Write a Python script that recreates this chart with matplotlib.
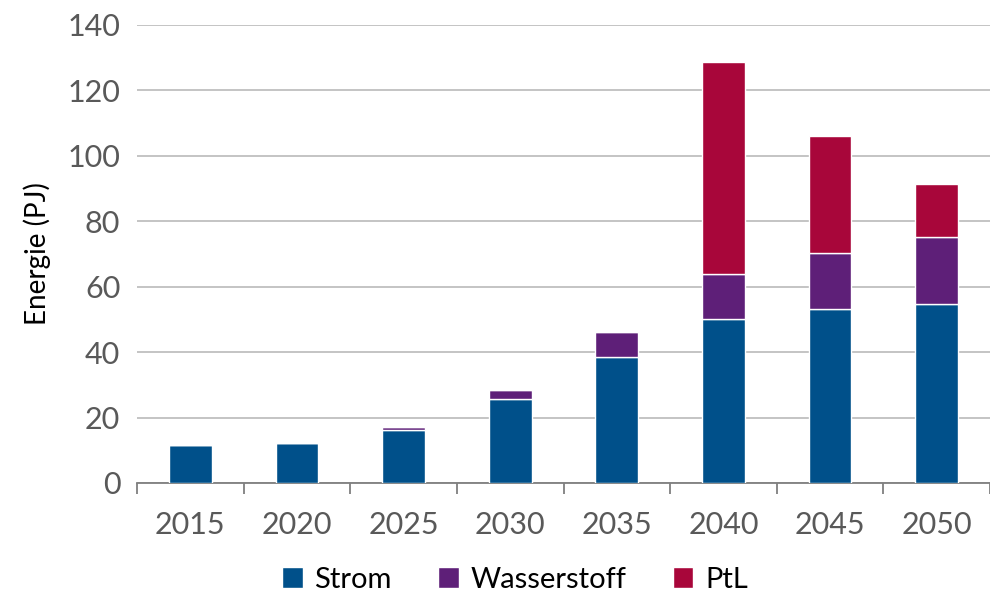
import matplotlib
matplotlib.use("Agg")
import matplotlib.pyplot as plt
import numpy as np

years = ["2015", "2020", "2025", "2030", "2035", "2040", "2045", "2050"]
strom = [11.6, 12.3, 16.2, 25.6, 38.5, 50.0, 53.1, 54.6]
wasserstoff = [0.0, 0.0, 0.9, 2.8, 7.7, 13.9, 17.3, 20.6]
ptl = [0.0, 0.0, 0.0, 0.0, 0.0, 64.8, 35.6, 16.1]

colors = ["#00508A", "#5E1F78", "#A8063A"]
names = ["Strom", "Wasserstoff", "PtL"]

plt.rcParams['font.family'] = ['Lato', 'DejaVu Sans']

fig = plt.figure(figsize=(9.9, 5.91), dpi=100)
ax = fig.add_axes([137/990, 1-483/591, 1-137/990, (483-25)/591])

x = np.arange(len(years))
w = 0.40
b1 = np.array(strom)
b2 = b1 + np.array(wasserstoff)
ax.bar(x, strom, w, color=colors[0], edgecolor="white", linewidth=1, label=names[0], zorder=3)
ax.bar(x, wasserstoff, w, bottom=b1, color=colors[1], edgecolor="white", linewidth=1, label=names[1], zorder=3)
ax.bar(x, ptl, w, bottom=b2, color=colors[2], edgecolor="white", linewidth=1, label=names[2], zorder=3)

ax.set_xlim(-0.5, 7.405)
ax.set_ylim(0, 140)
ax.set_yticks(range(0, 141, 20))
ax.yaxis.grid(True, color="#BFBFBF", linewidth=1.3, zorder=0)
ax.set_axisbelow(True)
for s in ["top", "right", "left"]:
    ax.spines[s].set_visible(False)
ax.spines["bottom"].set_color("#7F7F7F")
ax.spines["bottom"].set_linewidth(1.3)
ax.tick_params(axis="y", length=0, labelsize=22, labelcolor="#595959", pad=12)
ax.set_xticks(x)
ax.set_xticklabels(years)
ax.set_xticks(np.arange(-0.5, 7.6, 1), minor=True)
ax.tick_params(axis="x", which="major", length=0, labelsize=22, labelcolor="#595959", pad=20)
ax.tick_params(axis="x", which="minor", length=8, width=1.3, color="#7F7F7F")
ax.set_ylabel("Energie (PJ)", fontsize=20, color="black", labelpad=12)

handles, labels = ax.get_legend_handles_labels()
fig.legend(handles, labels, loc="lower center", bbox_to_anchor=(515/990, -0.047),
           ncol=3, frameon=False, fontsize=21, handlelength=0.7, handleheight=0.7,
           handletextpad=0.4, columnspacing=1.6)
fig.savefig("out.png", dpi=100)
